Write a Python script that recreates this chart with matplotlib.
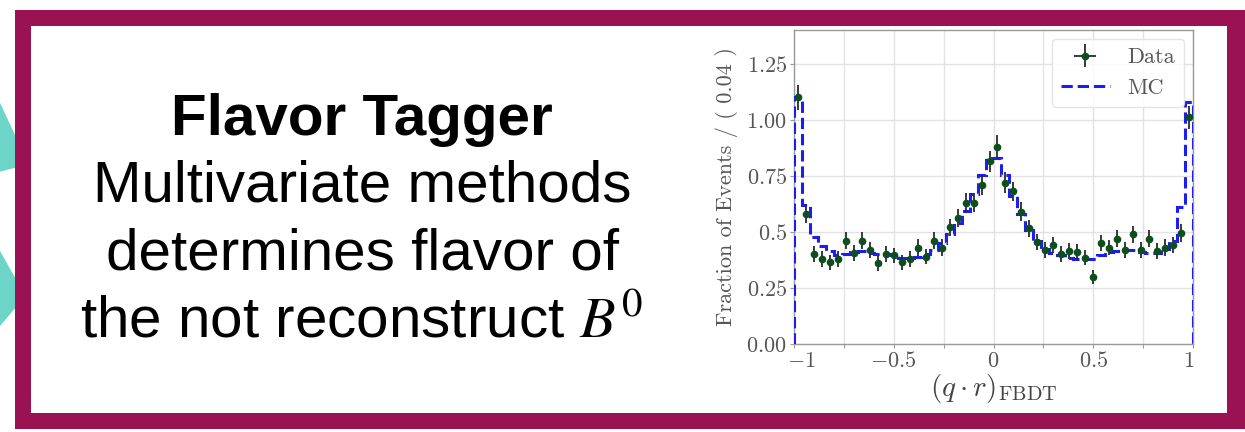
import matplotlib
matplotlib.use("Agg")
import matplotlib.pyplot as plt
import matplotlib.transforms as mtransforms
import numpy as np
from matplotlib.patches import Rectangle, Polygon

# ---- histogram content: 50 bins of width 0.04 on [-1, 1] ----
bin_edges = np.round(np.linspace(-1.0, 1.0, 51), 2)

data_values = [1.10, 0.58, 0.40, 0.38, 0.365, 0.38, 0.46, 0.405, 0.46, 0.42,
               0.36, 0.40, 0.395, 0.365, 0.38, 0.43, 0.39, 0.46, 0.43, 0.52,
               0.56, 0.63, 0.63, 0.71, 0.815, 0.88, 0.72, 0.68, 0.59, 0.515,
               0.455, 0.42, 0.44, 0.40, 0.415, 0.41, 0.385, 0.30, 0.45, 0.43,
               0.47, 0.42, 0.49, 0.42, 0.47, 0.415, 0.43, 0.44, 0.495, 1.01]

data_errors = [0.055, 0.040, 0.035, 0.035, 0.033, 0.035, 0.038, 0.035, 0.038, 0.036,
               0.033, 0.035, 0.035, 0.033, 0.035, 0.036, 0.035, 0.038, 0.036, 0.039,
               0.040, 0.042, 0.042, 0.045, 0.047, 0.050, 0.045, 0.044, 0.041, 0.039,
               0.037, 0.036, 0.036, 0.035, 0.035, 0.035, 0.034, 0.031, 0.036, 0.035,
               0.037, 0.035, 0.038, 0.035, 0.037, 0.035, 0.036, 0.036, 0.038, 0.053]

mc_values = [1.10, 0.62, 0.475, 0.435, 0.415, 0.395, 0.40, 0.41, 0.415, 0.405,
             0.40, 0.40, 0.395, 0.385, 0.385, 0.39, 0.40, 0.42, 0.45, 0.49,
             0.54, 0.595, 0.67, 0.755, 0.83, 0.83, 0.755, 0.66, 0.58, 0.51,
             0.46, 0.425, 0.405, 0.395, 0.385, 0.38, 0.378, 0.38, 0.395, 0.41,
             0.415, 0.418, 0.418, 0.412, 0.405, 0.405, 0.425, 0.46, 0.61, 1.08]

x_ticks = [-1.0, -0.75, -0.5, -0.25, 0.0, 0.25, 0.5, 0.75, 1.0]
x_tick_labels = [r"$-1$", "", r"$-0.5$", "", r"$0$", "", r"$0.5$", "", r"$1$"]
y_ticks = [0.0, 0.25, 0.5, 0.75, 1.0, 1.25]
y_tick_labels = [r"$0.00$", r"$0.25$", r"$0.5$", r"$0.75$", r"$1.00$", r"$1.25$"]

title_line = "Flavor Tagger"
body_lines = ["Multivariate methods", "determines flavor of",
              r"the not reconstruct $B^0$"]

W, H, DPI = 1245, 432, 100
MAROON = "#9b1253"
TEAL = "#6dd5c7"

plt.rcParams["mathtext.fontset"] = "cm"

fig = plt.figure(figsize=(W / DPI, H / DPI), dpi=DPI)
fig.patch.set_facecolor("white")

# ---- slide background: decorative shapes, frame and text ----
bg = fig.add_axes([0, 0, 1, 1])
bg.set_xlim(0, W)
bg.set_ylim(H, 0)
bg.axis("off")

bg.add_patch(Polygon([(-5, 92), (22, 150), (22, 166), (-5, 173)],
                     closed=True, facecolor=TEAL, edgecolor="none", zorder=0))
bg.add_patch(Polygon([(-5, 242), (22, 290), (22, 300), (-5, 332)],
                     closed=True, facecolor=TEAL, edgecolor="none", zorder=0))
bg.add_patch(Rectangle((15, 10), W + 10 - 15, 419, facecolor=MAROON,
                       edgecolor="none", zorder=1))
bg.add_patch(Rectangle((31, 26), 1227 - 31, 413 - 26, facecolor="white",
                       edgecolor="none", zorder=2))

text_x = 362
bg.text(text_x, 135, title_line, ha="center", va="baseline",
        fontsize=42, fontweight="bold", family="Liberation Sans", zorder=3)
for y, line in zip([202, 270, 338], body_lines):
    bg.text(text_x, y, line, ha="center", va="baseline", fontsize=42,
            family="Liberation Sans", math_fontfamily="stix", zorder=3)

# ---- the q*r histogram ----
ax = fig.add_axes([794 / W, (H - 344) / H, 399 / W, 314 / H])
ax.set_facecolor("white")

mc_handle = ax.stairs(mc_values, bin_edges, baseline=0, fill=False,
                      linestyle="--", color="#1d1df0", linewidth=2.2,
                      label="MC", zorder=3)
centers = 0.5 * (bin_edges[:-1] + bin_edges[1:])
data_handle = ax.errorbar(centers, data_values, yerr=data_errors, xerr=0.012,
                          fmt="o", markersize=4.5, color="#0c4f1c",
                          ecolor="#2a2a2a", elinewidth=1.3, capsize=0,
                          label="Data", zorder=4)

ax.set_xlim(-1.0, 1.0)
ax.set_ylim(0, 1.4)
ax.set_xticks(x_ticks)
ax.set_xticklabels(x_tick_labels)
ax.set_yticks(y_ticks)
ax.set_yticklabels(y_tick_labels)
ax.tick_params(length=3, color="#9a9a9a", labelcolor="#555555", labelsize=16,
               pad=2)
ax.grid(True, color="#e2e2e2", linewidth=1.0)
ax.set_axisbelow(True)
for sp in ax.spines.values():
    sp.set_color("#9a9a9a")
    sp.set_linewidth(1.0)

# nudge the outermost x labels inwards so they stay clear of the frame
xlabels = ax.get_xticklabels()
for lab, dx in ((xlabels[0], 7), (xlabels[-1], -4)):
    lab.set_transform(lab.get_transform() +
                      mtransforms.ScaledTranslation(dx / DPI, 0,
                                                    fig.dpi_scale_trans))

ax.set_ylabel("Fraction of Events / ( 0.04 )", family="cmr10",
              fontsize=16, color="#555555", labelpad=6)
ax.set_xlabel(r"$(q \cdot r)_{\mathrm{FBDT}}$", fontsize=21, color="#444444",
              labelpad=1)

leg = ax.legend([data_handle, mc_handle], ["Data", "MC"], loc="upper right",
                prop={"family": "cmr10", "size": 16}, frameon=True,
                fancybox=True, framealpha=0.85, edgecolor="#e0e0e0",
                handlelength=2.2, borderaxespad=0.4)
for t in leg.get_texts():
    t.set_color("#555555")

fig.savefig("out.png", dpi=DPI, facecolor="white")
